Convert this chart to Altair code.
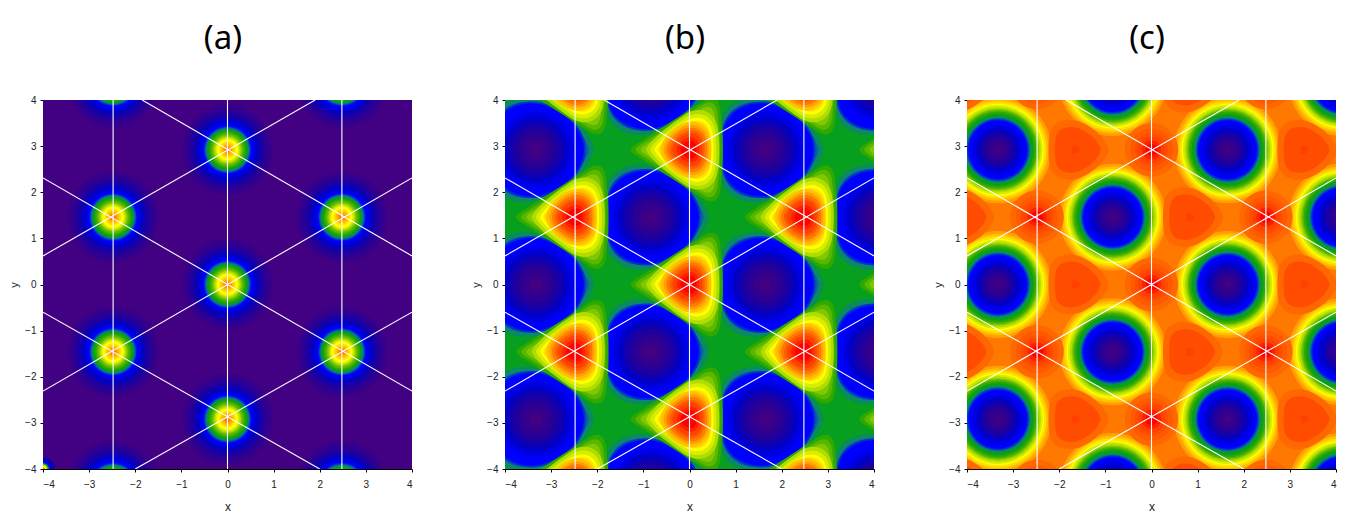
import altair as alt
import pandas as pd

PANEL_TITLES = ["(a)", "(b)", "(c)"]
TICKS = [-4, -3, -2, -1, 0, 1, 2, 3, 4]

# Contour band colours, lowest level first
PALETTE = ["#420082", "#38008a", "#2c0092", "#1e00a0", "#1000b0", "#0000c8", "#0000e6",
           "#0000ff", "#0030d0", "#0a5faa", "#0a8a60", "#06a01e", "#2fa800", "#58b800",
           "#80c800", "#b0dc00", "#d8ee00", "#ffff00", "#ffe000", "#ffc000", "#ffa000",
           "#ff7800", "#ff5a00", "#ff4000", "#ff2000", "#ff0000", "#ff6800", "#ff4c00"]
LEVELS = list(range(len(PALETTE)))

# Outlines of the contour bands (unit-square symbols)
OUTLINES = {
    "peak_outer": "M-1 0C-.98 -.06 -.9 -.1 -.85 -.13L.22 -.82C.42 -.95 .52 -.85 .53 -.6C.58 -.2 .58 .2 .53 .6C.52 .85 .42 .95 .22 .82L-.85 .13C-.9 .1 -.98 .06 -1 0Z",
    "peak_mid": "M-1 0C-.96 -.16 -.55 -.52 -.05 -.85C.3 -1.02 .6 -.85 .65 -.5C.7 -.2 .7 .2 .65 .5C.6 .85 .3 1.02 -.05 .85C-.55 .52 -.96 .16 -1 0Z",
    "peak_inner": "M-1 0C-1 -.35 -.55 -.8 -.1 -.95C.3 -1.05 .65 -.8 .72 -.4C.76 -.15 .76 .15 .72 .4C.65 .8 .3 1.05 -.1 .95C-.55 .8 -1 .35 -1 0Z",
    "well_outer": "M1 0C.95 -.3 .55 -.7 .1 -.86C-.3 -.98 -.72 -.85 -.78 -.45C-.82 -.15 -.82 .15 -.78 .45C-.72 .85 -.3 .98 .1 .86C.55 .7 .95 .3 1 0Z",
    "well_mid": "M1 0C1 -.4 .62 -.82 .1 -.95C-.35 -1.04 -.82 -.8 -.87 -.4C-.9 -.15 -.9 .15 -.87 .4C-.82 .8 -.35 1.04 .1 .95C.62 .82 1 .4 1 0Z",
    "round": "circle",
}

# Feature centres
PEAK_X = [0, 0, 0, -2.48, -2.48, 2.48, 2.48, -2.48, -2.48, 2.48, 2.48, 4.96, 4.96, 4.96]
PEAK_Y = [0, 2.92, -2.92, 1.46, -1.46, 1.46, -1.46, 4.38, -4.38, 4.38, -4.38, 0, 2.92, -2.92]
WELL_X = [-3.33, -3.33, -3.33, 1.65, 1.65, 1.65, -0.84, -0.84, -0.84, -0.84, 4.13, 4.13, 4.13, 4.13]
WELL_Y = [0, 2.92, -2.92, 0, 2.92, -2.92, 1.46, -1.46, 4.38, -4.38, 1.46, -1.46, 4.38, -4.38]
SPOT_X = [0.83, 0.83, 0.83, 0.83, -1.65, -1.65, -1.65, 3.31, 3.31, 3.31, -4.13, -4.13, -4.13, -4.13]
SPOT_Y = [1.46, -1.46, 4.38, -4.38, 0, 2.92, -2.92, 0, 2.92, -2.92, 1.46, -1.46, 4.38, -4.38]
CORNER_X = [-4]
CORNER_Y = [-4]

# Panel (a): band level and band radius (x units)
A_BACKGROUND = 0
A_LEVEL = [1, 2, 3, 4, 5, 6, 7, 8, 9, 10, 11, 12, 13, 14, 15, 16, 17, 18, 19, 20, 21]
A_RADIUS = [.98, .90, .81, .74, .67, .61, .55, .51, .49, .465, .44, .40, .36, .32, .29, .26, .23, .18, .14, .10, .06]
CORNER_LEVEL = [3, 5, 7, 11, 15, 17, 21]
CORNER_RADIUS = [.26, .22, .18, .13, .10, .07, .04]

# Panel (b)
B_BACKGROUND = 11
B_WELL_LEVEL = [10, 9, 8, 7, 6, 5, 4, 3, 2, 1, 0]
B_WELL_RADIUS = [1.26, 1.15, 1.08, 1.04, .82, .72, .61, .50, .39, .26, .13]
B_WELL_OUTLINE = ["well_outer", "well_outer", "well_mid", "well_mid", "round", "round", "round", "round", "round", "round", "round"]
B_PEAK_LEVEL = [12, 13, 14, 15, 16, 17, 18, 19, 20, 21, 22, 23, 24, 25]
B_PEAK_RADIUS = [1.28, 1.17, 1.06, .94, .85, .76, .69, .63, .56, .50, .43, .37, .28, .20]
B_PEAK_OUTLINE = ["peak_outer", "peak_outer", "peak_outer", "peak_mid", "peak_mid", "peak_mid", "peak_mid",
                  "peak_inner", "peak_inner", "peak_inner", "peak_inner", "peak_inner", "peak_inner", "peak_inner"]

# Panel (c)
C_BACKGROUND = 21
C_WELL_LEVEL = [20, 19, 18, 17, 16, 15, 14, 13, 12, 11, 10, 9, 8, 7, 6, 5, 4, 3, 2, 1, 0]
C_WELL_RADIUS = [1.16, 1.10, 1.05, 1.0, .97, .93, .89, .86, .83, .78, .72, .69, .67, .64, .55, .47, .40, .33, .25, .17, .08]
C_SPOT_LEVEL = [26, 27, 23]
C_SPOT_RADIUS = [.72, .55, .10]
C_SPOT_OUTLINE = ["well_outer", "well_outer", "well_outer"]
C_STAR_LEVEL = [26, 22, 27, 23, 24, 25]
C_STAR_RADIUS = [.58, .46, .36, .29, .21, .13]

# White lattice lines: endpoints (x1, y1) - (x2, y2)
LINE_X1 = [-2.48, 0, 2.48, -1.85, -4, -4, -4, -4, -2.0]
LINE_Y1 = [-4, -4, -4, 4, 2.31, -0.6, 0.62, -2.31, -4]
LINE_X2 = [-2.48, 0, 2.48, 4, 4, 2.0, 1.9, 4, 4]
LINE_Y2 = [4, 4, 4, 0.62, -2.31, -4, 4, 2.31, -0.6]

DOMAIN = [-4, 4]


def band_rows(xs, ys, levels, radii, outlines=None):
    rows = []
    for i, (lev, r) in enumerate(zip(levels, radii)):
        kind = outlines[i] if outlines else "round"
        for cx, cy in zip(xs, ys):
            rows.append({"cx": cx, "cy": cy, "level": lev, "radius": r, "kind": kind})
    return rows


def panel(title, background, rows):
    for i, row in enumerate(rows):
        row["seq"] = i
    x_scale = alt.Scale(domain=DOMAIN, nice=False, zero=False)
    y_scale = alt.Scale(domain=DOMAIN, nice=False, zero=False)
    color_scale = alt.Scale(domain=LEVELS, range=PALETTE)
    x_axis = alt.Axis(values=TICKS, title="x", grid=False, format="d", labelFontSize=10, titleFontSize=12,
                      titleFontWeight="normal", labelColor="#222", titleColor="#222", tickColor="#000",
                      domainColor="#000", tickSize=3, labelPadding=7, titlePadding=12,
                      labelFont="Liberation Sans", titleFont="Liberation Sans")
    y_axis = alt.Axis(values=TICKS, title="y", grid=False, format="d", labelFontSize=10, titleFontSize=11,
                      titleFontWeight="normal", labelColor="#222", titleColor="#222", tickColor="#000",
                      domainColor="#000", tickSize=3, labelPadding=4, titlePadding=5,
                      labelFont="Liberation Sans", titleFont="Liberation Sans")
    back = alt.Chart(pd.DataFrame({"x": [DOMAIN[0]], "x2": [DOMAIN[1]], "y": [DOMAIN[0]], "y2": [DOMAIN[1]],
                                   "level": [background]})).mark_rect().encode(
        x=alt.X("x:Q", scale=x_scale, axis=x_axis),
        x2="x2:Q",
        y=alt.Y("y:Q", scale=y_scale, axis=y_axis),
        y2="y2:Q",
        color=alt.Color("level:O", scale=color_scale, legend=None),
    )
    px = 369 / 8
    bands = alt.Chart(pd.DataFrame(rows)).mark_point(filled=True, opacity=1, clip=True, strokeWidth=0).encode(
        x=alt.X("cx:Q", scale=x_scale, title="x"),
        y=alt.Y("cy:Q", scale=y_scale, title="y"),
        size=alt.Size("radius:Q", legend=None,
                      scale=alt.Scale(type="pow", exponent=2, domain=[0, 2], range=[0, (4 * px) ** 2])),
        color=alt.Color("level:O", scale=color_scale, legend=None),
        shape=alt.Shape("kind:N", legend=None,
                        scale=alt.Scale(domain=list(OUTLINES), range=list(OUTLINES.values()))),
        order=alt.Order("seq:Q"),
    )
    lines = alt.Chart(pd.DataFrame({"x": LINE_X1, "y": LINE_Y1, "x2": LINE_X2, "y2": LINE_Y2})).mark_rule(
        color="white", strokeWidth=1.1, clip=True).encode(
        x=alt.X("x:Q", scale=x_scale, title="x"),
        x2="x2:Q",
        y=alt.Y("y:Q", scale=y_scale, title="y"),
        y2="y2:Q",
    )
    return alt.layer(back, bands, lines).properties(
        width=369, height=369,
        title=alt.TitleParams(title, font="Noto Sans", fontSize=33, fontWeight="normal", color="#000",
                              anchor="middle", dx=-4.5, offset=39),
    )


panel_a = panel(PANEL_TITLES[0], A_BACKGROUND,
                band_rows(PEAK_X, PEAK_Y, A_LEVEL, A_RADIUS) +
                band_rows(CORNER_X, CORNER_Y, CORNER_LEVEL, CORNER_RADIUS))
panel_b = panel(PANEL_TITLES[1], B_BACKGROUND,
                band_rows(WELL_X, WELL_Y, B_WELL_LEVEL, B_WELL_RADIUS, B_WELL_OUTLINE) +
                band_rows(PEAK_X, PEAK_Y, B_PEAK_LEVEL, B_PEAK_RADIUS, B_PEAK_OUTLINE))
panel_c = panel(PANEL_TITLES[2], C_BACKGROUND,
                band_rows(WELL_X, WELL_Y, C_WELL_LEVEL, C_WELL_RADIUS) +
                band_rows(SPOT_X, SPOT_Y, C_SPOT_LEVEL, C_SPOT_RADIUS, C_SPOT_OUTLINE) +
                band_rows(PEAK_X, PEAK_Y, C_STAR_LEVEL, C_STAR_RADIUS))

chart = alt.hconcat(panel_a, panel_b, panel_c, spacing=57).properties(
    padding={"left": 0, "top": 15, "right": 0, "bottom": 0},
    background="white",
).resolve_scale(color="independent", size="independent", shape="independent").configure_view(stroke=None)

chart.save("out.html", embed_options={"renderer": "svg", "actions": False})
